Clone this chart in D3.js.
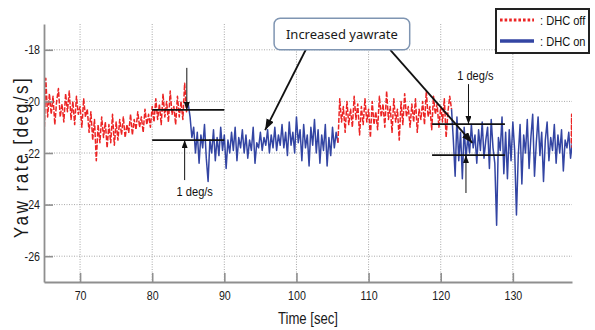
<!DOCTYPE html>
<html>
<head>
<meta charset="utf-8">
<script src="https://cdn.jsdelivr.net/npm/d3@7"></script>
<style>
  body { margin: 0; background: #fff; }
  svg { display: block; font-family: 'Liberation Sans', Arial, sans-serif; }
</style>
</head>
<body>
<svg id="chart" width="595" height="330"></svg>
<script>
// yaw rate samples, one every 0.25 s (offC is the short red tail)
const offA = [
  -21.5, -19.1, -20.6, -19.7, -20.5, -19.8, -20.9, -20.0,
  -19.5, -20.6, -20.1, -20.8, -19.7, -20.4, -19.6, -20.7,
  -20.0, -20.9, -19.8, -20.5, -20.2, -21.0, -19.9, -20.6,
  -20.3, -21.2, -20.4, -21.5, -20.7, -22.3, -20.9, -21.6,
  -20.6, -21.4, -20.8, -21.8, -20.9, -21.6, -20.5, -21.7,
  -20.8, -21.5, -20.7, -21.3, -20.6, -21.4, -20.9, -21.2,
  -20.5, -21.3, -20.7, -21.1, -20.4, -21.0, -20.6, -21.2,
  -20.3, -20.9, -20.5, -21.0, -20.2, -20.8, -19.9, -20.7,
  -20.1, -20.9, -19.7, -20.6, -20.0, -20.8, -19.6, -20.5,
  -20.2, -20.9, -19.8, -20.6, -20.0, -20.7, -19.3, -20.4,
  -20.1
];
const onA = [
  -20.1, -20.6, -21.4, -21.0, -22.0, -21.2, -22.4, -21.3,
  -21.8, -20.9, -22.2, -23.1, -21.5, -22.0, -21.1, -22.3,
  -21.4, -22.1, -21.0, -21.9, -21.3, -22.6, -21.5, -22.0,
  -21.2, -21.9, -21.0, -22.3, -21.4, -21.8, -21.1, -22.0,
  -21.3, -22.2, -21.5, -21.9, -21.0, -22.4, -21.6, -21.8,
  -21.2, -21.9, -21.4, -21.7, -21.1, -22.0, -21.3, -21.8,
  -21.0, -21.9, -21.3, -21.7, -20.9, -21.8, -21.2, -22.1,
  -20.8, -21.7, -21.2, -22.0, -20.6, -21.6, -21.1, -22.3,
  -20.9, -21.8, -21.3, -22.5, -21.0, -21.7, -20.7, -22.0,
  -21.1, -22.4, -21.3, -21.9, -20.9, -22.5, -21.4, -22.1,
  -21.0, -21.8, -21.2, -21.6
];
const offB = [
  -21.6, -19.9, -20.8, -20.2, -21.2, -20.0, -20.9, -20.3,
  -21.0, -19.8, -20.7, -20.1, -21.3, -20.2, -20.9, -19.9,
  -20.8, -20.3, -21.4, -20.0, -20.9, -20.4, -21.1, -19.8,
  -20.6, -20.1, -21.0, -19.6, -20.7, -20.2, -21.2, -19.9,
  -20.8, -20.3, -21.5, -20.0, -20.9, -19.7, -20.6, -20.2,
  -21.0, -20.1, -20.8, -19.9, -21.2, -20.3, -20.7, -20.0,
  -20.9, -19.6, -20.6, -20.2, -21.1, -19.8, -20.5, -20.1,
  -21.0, -20.2, -20.8, -19.9, -21.4, -20.4, -19.8, -20.3
];
const onB = [
  -20.3, -21.5, -22.9, -20.6, -22.3, -21.2, -23.0, -21.0,
  -22.2, -21.4, -22.0, -20.9, -21.8, -21.3, -22.4, -21.1,
  -21.9, -20.8, -22.2, -21.5, -21.0, -22.6, -20.7, -21.8,
  -22.4, -24.8, -21.4, -21.9, -20.6, -22.8, -21.2, -23.0,
  -21.1, -22.3, -20.8, -21.9, -24.4, -22.1, -20.9, -23.2,
  -21.3, -22.0, -20.7, -22.6, -21.4, -20.5, -22.9, -21.6,
  -20.6, -22.1, -21.2, -23.1, -21.5, -20.8, -22.3, -21.4,
  -21.9, -20.9, -22.4, -21.3, -22.0, -21.1, -22.7, -21.5,
  -21.8, -21.2, -22.2, -21.6
];
const offC = [-21.6, -20.5, -21.8];

const segValues = [offA, onA, offB, onB, offC];
const segStatus = ['off', 'on', 'off', 'on', 'off'];
const segStart = [65, 85, 105.75, 121.5, 138.1];
const segStep = [0.25, 0.25, 0.25, 0.25, 0.05];

const xTicks = [70, 80, 90, 100, 110, 120, 130];
const yTicks = [-18, -20, -22, -24, -26];
const legendLabels = [': DHC off', ': DHC on'];

const RED = '#ec2424';
const BLUE = '#3345a3';

const width = 595, height = 330;
const margin = { top: 24, right: 23, bottom: 48, left: 44 };
const svg = d3.select('#chart');

const x = d3.scaleLinear().domain([65, 138.2]).range([margin.left, width - margin.right]);
const y = d3.scaleLinear().domain([-27, -17]).range([height - margin.bottom, margin.top]);

// the figure uses a condensed face; squeeze the regular one to match
function narrow(sel, k = 0.82) {
  sel.each(function () {
    const w = this.getComputedTextLength();
    d3.select(this).attr('textLength', w * k).attr('lengthAdjust', 'spacingAndGlyphs');
  });
}

// arrow heads
const defs = svg.append('defs');
function marker(id, len, wid) {
  defs.append('marker')
    .attr('id', id)
    .attr('viewBox', `0 ${-wid / 2} ${len} ${wid}`)
    .attr('refX', len).attr('refY', 0)
    .attr('markerWidth', len).attr('markerHeight', wid)
    .attr('markerUnits', 'userSpaceOnUse')
    .attr('orient', 'auto')
    .append('path')
    .attr('d', `M0,${-wid / 2}L${len},0L0,${wid / 2}Z`)
    .attr('fill', '#111');
}
marker('bigHead', 11, 8);
marker('smallHead', 8, 6);

defs.append('clipPath').attr('id', 'plotClip')
  .append('rect')
  .attr('x', x.range()[0]).attr('y', margin.top)
  .attr('width', x.range()[1] - x.range()[0])
  .attr('height', y.range()[0] - margin.top);

// grid
const grid = svg.append('g').attr('stroke', '#a8a8a8').attr('stroke-dasharray', '1,1.5').attr('stroke-width', 1);
grid.selectAll('.gx').data(xTicks).join('line')
  .attr('x1', d => x(d)).attr('x2', d => x(d))
  .attr('y1', y.range()[1]).attr('y2', y.range()[0]);
grid.selectAll('.gy').data(yTicks).join('line')
  .attr('y1', d => y(d)).attr('y2', d => y(d))
  .attr('x1', x.range()[0]).attr('x2', x.range()[1]);

// series
const line = d3.line().x(d => x(d[0])).y(d => y(d[1]));
const series = svg.append('g').attr('clip-path', 'url(#plotClip)').attr('fill', 'none');
segValues.forEach((vals, i) => {
  const pts = vals.map((v, j) => [segStart[i] + j * segStep[i], v]);
  const p = series.append('path')
    .datum(pts)
    .attr('d', line)
    .attr('stroke', segStatus[i] === 'off' ? RED : BLUE)
    .attr('stroke-width', 1.5)
    .attr('stroke-linejoin', 'round');
  if (segStatus[i] === 'off') p.attr('stroke-dasharray', '5,1.6');
});

// axes
const xAxis = svg.append('g')
  .attr('transform', `translate(0,${y.range()[0]})`)
  .call(d3.axisBottom(x).tickValues(xTicks).tickSize(-9).tickPadding(9).tickSizeOuter(0));
const yAxis = svg.append('g')
  .attr('transform', `translate(${x.range()[0]},0)`)
  .call(d3.axisLeft(y).tickValues(yTicks).tickSize(-9).tickPadding(4).tickSizeOuter(0)
    .tickFormat(d => String(d)));
[xAxis, yAxis].forEach(a => {
  a.select('.domain').attr('stroke', '#8f8f8f').attr('stroke-width', 1.8);
  a.selectAll('.tick line').attr('stroke', '#8f8f8f').attr('stroke-width', 1.6);
  a.selectAll('.tick text').attr('fill', '#1a1a1a').style('font-size', '13px')
    .style('font-family', "'Liberation Sans',Arial,sans-serif");
  narrow(a.selectAll('.tick text'));
});

// axis titles
narrow(svg.append('text')
  .attr('x', (x.range()[0] + x.range()[1]) / 2).attr('y', 324)
  .attr('text-anchor', 'middle').attr('fill', '#1a1a1a')
  .style('font-size', '16px')
  .text('Time [sec]'));
svg.append('text')
  .attr('transform', `translate(28,${(y.range()[0] + y.range()[1]) / 2 + 4}) rotate(-90) scale(0.82,1)`)
  .attr('text-anchor', 'middle').attr('fill', '#1a1a1a')
  .style('font-size', '21px').style('letter-spacing', '3px')
  .text('Yaw rate [deg/s]');

// 1 deg/s dimension marks
const dims = [
  { x1: 80, x2: 90, hi: -20.33, lo: -21.5, upX: 84.8, upFrom: -18.7, dnX: 84.5, dnFrom: -23.05, tx: 85.9, ty: -23.5 },
  { x1: 118.8, x2: 128.9, hi: -20.88, lo: -22.08, upX: 123.85, upFrom: -19.33, dnX: 123.5, dnFrom: -23.55, tx: 124.8, ty: -19.0 }
];
const ann = svg.append('g');
dims.forEach(d => {
  ann.append('line').attr('x1', x(d.x1)).attr('x2', x(d.x2)).attr('y1', y(d.hi)).attr('y2', y(d.hi))
    .attr('stroke', '#111').attr('stroke-width', 1.8);
  ann.append('line').attr('x1', x(d.x1)).attr('x2', x(d.x2)).attr('y1', y(d.lo)).attr('y2', y(d.lo))
    .attr('stroke', '#111').attr('stroke-width', 1.8);
  ann.append('line').attr('x1', x(d.upX)).attr('x2', x(d.upX)).attr('y1', y(d.upFrom)).attr('y2', y(d.hi))
    .attr('stroke', '#111').attr('stroke-width', 1).attr('marker-end', 'url(#smallHead)');
  ann.append('line').attr('x1', x(d.dnX)).attr('x2', x(d.dnX)).attr('y1', y(d.dnFrom)).attr('y2', y(d.lo))
    .attr('stroke', '#111').attr('stroke-width', 1).attr('marker-end', 'url(#smallHead)');
  narrow(ann.append('text').attr('x', x(d.tx)).attr('y', y(d.ty)).attr('text-anchor', 'middle')
    .attr('dy', '0.35em').attr('fill', '#111').style('font-size', '13.5px').text('1 deg/s'));
});

// callout
const callout = { t1: 96.9, t2: 115.7, v1: -16.78, v2: -18.0 };
const callArrows = [
  { t0: 101.34, v0: -17.97, t1: 95.66, v1: -21.11 },
  { t0: 113.0, v0: -18.0, t1: 124.38, v1: -21.61 }
];
callArrows.forEach(a => {
  ann.append('line').attr('x1', x(a.t0)).attr('y1', y(a.v0)).attr('x2', x(a.t1)).attr('y2', y(a.v1))
    .attr('stroke', '#111').attr('stroke-width', 1.8).attr('marker-end', 'url(#bigHead)');
});
ann.append('rect')
  .attr('x', x(callout.t1)).attr('y', y(callout.v1))
  .attr('width', x(callout.t2) - x(callout.t1)).attr('height', y(callout.v2) - y(callout.v1))
  .attr('rx', 6).attr('fill', '#fff').attr('stroke', '#7f95b2').attr('stroke-width', 1.5);
ann.append('text')
  .attr('x', (x(callout.t1) + x(callout.t2)) / 2).attr('y', (y(callout.v1) + y(callout.v2)) / 2)
  .attr('dy', '0.36em').attr('text-anchor', 'middle').attr('fill', '#1a1a1a')
  .style('font-family', "'Noto Sans','Open Sans',sans-serif").style('font-size', '13px')
  .text('Increased yawrate');

// legend
const lg = svg.append('g').attr('transform', 'translate(496,9)');
lg.append('rect').attr('width', 93).attr('height', 44).attr('fill', '#fff')
  .attr('stroke', '#222').attr('stroke-width', 2);
const legColors = [RED, BLUE];
legendLabels.forEach((lab, i) => {
  const yy = 11 + i * 21;
  const l = lg.append('line').attr('x1', 4).attr('x2', 38).attr('y1', yy).attr('y2', yy)
    .attr('stroke', legColors[i]);
  if (i === 0) l.attr('stroke-width', 3).attr('stroke-dasharray', '2.6,2');
  else l.attr('stroke-width', 3.5);
  narrow(lg.append('text').attr('x', 44).attr('y', yy).attr('dy', '0.36em').attr('fill', '#111')
    .style('font-size', '13.5px').text(lab));
});
</script>
</body>
</html>
